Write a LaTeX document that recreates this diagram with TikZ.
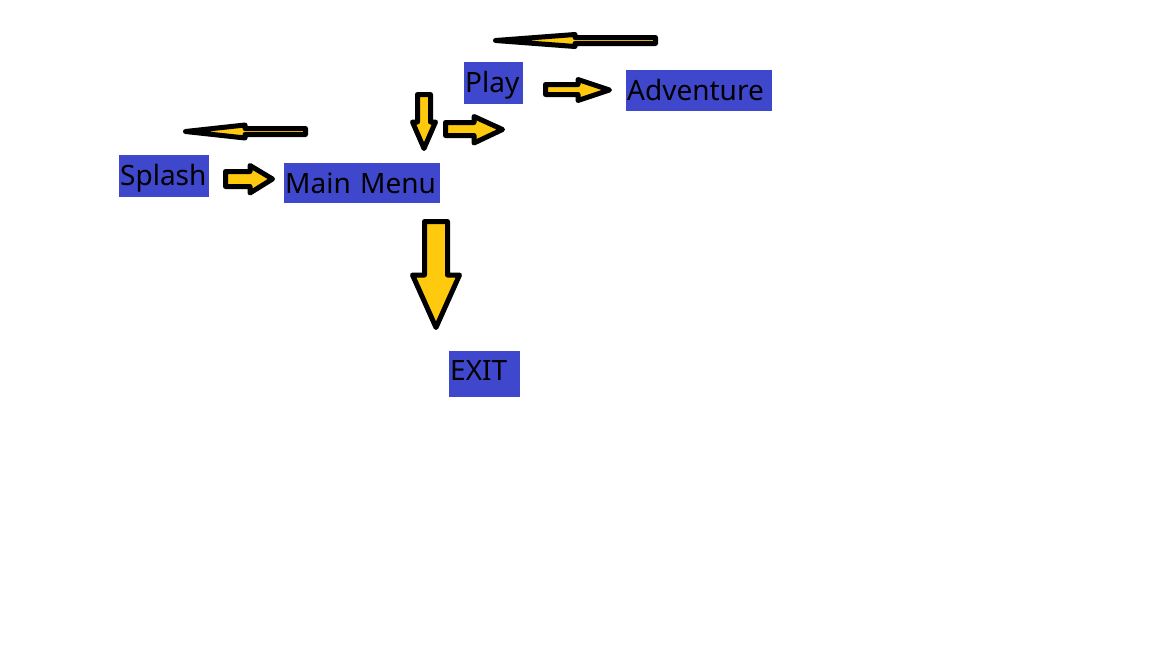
\documentclass[tikz,border=0pt]{standalone}
\usepackage{fontspec}
\setmainfont{Noto Sans}
\definecolor{boxblue}{RGB}{63,72,204}
\definecolor{arrowgold}{RGB}{255,201,14}
\tikzset{
  labelbox/.style={anchor=north west, fill=boxblue, text=black, inner xsep=1pt, inner ysep=0pt,
    align=left, font=\fontsize{28}{34}\selectfont},
  blockarrow/.style={draw=black, fill=arrowgold, line width=5pt, line join=round}
}
\begin{document}
\begin{tikzpicture}[x=1pt,y=-1pt]
\useasboundingbox[fill=white] (0,0) rectangle (1152,648);
% labels
\node[labelbox, text width=88pt, text height=30pt, text depth=12pt] (splash) at (119,155) {\mbox{Splash}};
\node[labelbox, text width=154pt, text height=30pt, text depth=10pt] (mainmenu) at (284,163) {\mbox{Main Menu}};
\node[labelbox, text width=57pt, text height=30pt, text depth=12pt] (play) at (464,62) {\mbox{Play}};
\node[labelbox, text width=144pt, text height=30pt, text depth=11pt] (adventure) at (626,70) {\mbox{Adventure}};
\node[labelbox, text width=69pt, text height=29pt, text depth=17pt] (exit) at (449,351) {\mbox{EXIT}};
% block arrows
\draw[blockarrow] (305.5,128.5) -- (245,128.5) -- (245,125) -- (185.5,131.5) -- (245,138) -- (245,134.5) -- (305.5,134.5) -- cycle;
\draw[blockarrow] (655.5,37.5) -- (575,37.5) -- (575,34.5) -- (495.5,40.5) -- (575,46.5) -- (575,43.5) -- (655.5,43.5) -- cycle;
\draw[blockarrow] (225.5,171.5) -- (250,171.5) -- (250,165.5) -- (272.5,179) -- (250,193) -- (250,186.5) -- (225.5,186.5) -- cycle;
\draw[blockarrow] (417.5,94.5) -- (430.5,94.5) -- (430.5,122) -- (435.5,122) -- (424,148.5) -- (412.5,122) -- (417.5,122) -- cycle;
\draw[blockarrow] (445.5,122.5) -- (474,122.5) -- (474,116.5) -- (502.5,129.5) -- (474,143) -- (474,135.5) -- (445.5,135.5) -- cycle;
\draw[blockarrow] (545.5,84.5) -- (578,84.5) -- (578,79.5) -- (609.5,90) -- (578,100.5) -- (578,94.5) -- (545.5,94.5) -- cycle;
\draw[blockarrow] (424.5,221.5) -- (447.5,221.5) -- (447.5,275) -- (459.5,275) -- (436,327.5) -- (412.5,275) -- (424.5,275) -- cycle;
\end{tikzpicture}
\end{document}
